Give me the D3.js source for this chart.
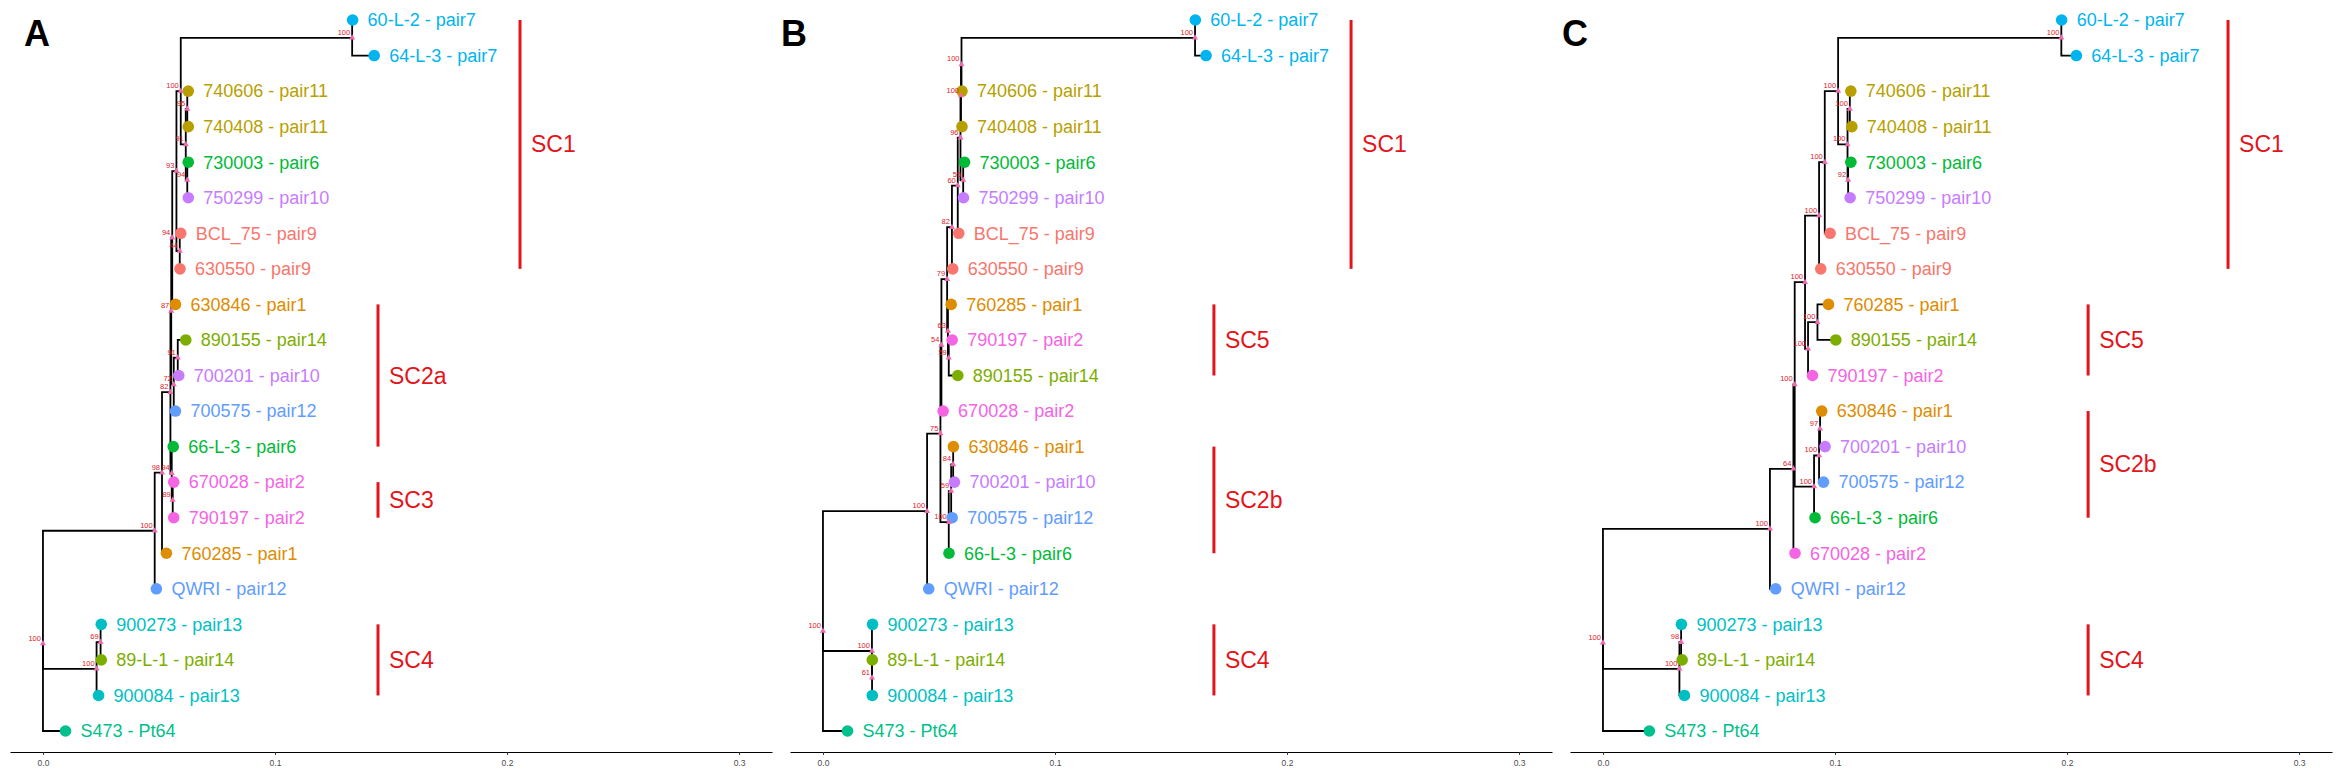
<!DOCTYPE html>
<html>
<head>
<meta charset="utf-8">
<script src="https://cdn.jsdelivr.net/npm/d3@7"></script>
<style>
  body { margin: 0; background: #fff; }
  svg { display: block; }
  text { font-family: "Liberation Sans", Arial, Helvetica, sans-serif; }
</style>
</head>
<body>
<svg id="chart"></svg>
<script>
// trees in Newick, internal node names = bootstrap support
const newickA = "(((((((" +
  "((60-L-2:0.0002,64-L-3:0.0095)100:0.07387,((740606:0.00043,740408:0.00043)95:0.00065,(730003:0.00043,750299:0.00043)94:0.00065)91:0.00216)100:0.00186" +
  ",(BCL_75:0.00043,630550:0.0001)44:0.00143)93:0.00181" +
  ",630846:0.00138)94:0.00043" +
  ",((890155:0.00346,700201:0.00043)91:0.00173,700575:0.00073)72:0.00108)87:0.00035" +
  ",(66-L-3:0.00065,(670028:0.00043,790197:0.00043)89:0.00043)94:0.00056)82:0.00363" +
  ",760285:0.0019)98:0.00315,QWRI:0.00073)100:0.04816" +
  ",((900273:0.0003,89-L-1:0.0003)69:0.00173,900084:0.00086)100:0.02311,S473:0.00972)100;";

const newickB = "(((((((((" +
  "((60-L-2:0.00013,64-L-3:0.00475)100:0.10065,740606:0.00022)100:0.00022" +
  ",740408:0.00043)100:0.00022" +
  ",(730003:0.00056,750299:0.00013)55:0.00117)96:0.00117" +
  ",BCL_75:0.00043)60:0.00251" +
  ",630550:0.00035)82:0.00207" +
  ",(760285:0.00138,(790197:0.00147,890155:0.00389)59:0.00035)63:0.00035)79:0.00246" +
  ",670028:0.00073)54:0.00043" +
  ",(((630846:0.0001,700201:0.00056)84:0.00086,700575:0.00043)59:0.00104,66-L-3:0.0001)100:0.00359)75:0.00575" +
  ",QWRI:0.00069)100:0.04488" +
  ",(900273:0.00026,(89-L-1:0.0001,900084:0.0001)61:0.00004)100:0.02112,S473:0.01058)100;";

const newickC = "(((((((" +
  "((60-L-2:0.00013,64-L-3:0.00648)100:0.0962,((740606:0.00043,740408:0.00086)100:0.00099,(730003:0.00117,750299:0.00086)92:0.00026)100:0.00406)100:0.00575" +
  ",BCL_75:0.00229)100:0.00246" +
  ",630550:0.00073)100:0.00605" +
  ",((760285:0.00475,890155:0.00791)100:0.00406,790197:0.0019)100:0.0013)100:0.00445" +
  ",(((630846:0.00073,700201:0.00216)97:0.00043,700575:0.0019)100:0.00216,66-L-3:0.00043)100:0.00834)100:0.00056" +
  ",670028:0.00069)64:0.01011" +
  ",QWRI:0.00246)100:0.07197" +
  ",((900273:0.00013,89-L-1:0.00043)98:0.00073,900084:0.00216)100:0.03296,S473:0.02)100;";

// tip -> pair
const tipNames  = ["60-L-2","64-L-3","740606","740408","730003","750299","BCL_75","630550","630846","890155",
                   "700201","700575","66-L-3","670028","790197","760285","QWRI","900273","89-L-1","900084","S473"];
const tipGroups = ["pair7","pair7","pair11","pair11","pair6","pair10","pair9","pair9","pair1","pair14",
                   "pair10","pair12","pair6","pair2","pair2","pair1","pair12","pair13","pair14","pair13","Pt64"];

const groupNames  = ["pair9","pair1","pair11","pair14","pair6","Pt64","pair13","pair7","pair12","pair10","pair2"];
const groupColors = ["#F8766D","#DE8C00","#B79F00","#7CAE00","#00BA38","#00C08B","#00BFC4","#00B4F0","#619CFF","#C77CFF","#F564E3"];

// clade bars
const cladeLabelsA = ["SC1","SC2a","SC3","SC4"];
const cladeSpansA  = [["60-L-2","630550"],["630846","66-L-3"],["670028","790197"],["900273","900084"]];
const cladeLabelsB = ["SC1","SC5","SC2b","SC4"];
const cladeSpansB  = [["60-L-2","630550"],["760285","890155"],["630846","66-L-3"],["900273","900084"]];
const cladeLabelsC = ["SC1","SC5","SC2b","SC4"];
const cladeSpansC  = [["60-L-2","630550"],["760285","790197"],["630846","66-L-3"],["900273","900084"]];

const axisTicks = [0, 0.1, 0.2, 0.3];

// layout
const width = 2340, height = 775, panelW = 780;
const panels = [
  { letter: "A", tree: newickA, labels: cladeLabelsA, spans: cladeSpansA, barX: [0.2056, 0.1444, 0.1444, 0.1444], letterX: 24 },
  { letter: "B", tree: newickB, labels: cladeLabelsB, spans: cladeSpansB, barX: [0.2276, 0.1685, 0.1685, 0.1685], letterX: 1 },
  { letter: "C", tree: newickC, labels: cladeLabelsC, spans: cladeSpansC, barX: [0.2694, 0.2091, 0.2091, 0.2091], letterX: 2 }
];

const colorOf = d3.scaleOrdinal().domain(groupNames).range(groupColors);
const groupOf = new Map(tipNames.map((n, i) => [n, tipGroups[i]]));

const x = d3.scaleLinear().domain([-0.0142, 0.3142]).range([10, 772]);
const y = d3.scaleLinear().domain([0, 20]).range([20, 731]);

function parseNewick(s) {
  let i = 0;
  function node() {
    const n = { children: [] };
    if (s[i] === "(") {
      i++;
      n.children.push(node());
      while (s[i] === ",") { i++; n.children.push(node()); }
      i++;
    }
    let name = "";
    while (i < s.length && !",():;".includes(s[i])) name += s[i++];
    n.name = name.trim();
    n.length = 0;
    if (s[i] === ":") {
      i++;
      let len = "";
      while (i < s.length && !",();".includes(s[i])) len += s[i++];
      n.length = +len;
    }
    return n;
  }
  return node();
}

const svg = d3.select("#chart").attr("width", width).attr("height", height);

panels.forEach((p, k) => {
  const g = svg.append("g").attr("transform", `translate(${k * panelW},0)`);

  const root = d3.hierarchy(parseNewick(p.tree), d => d.children.length ? d.children : null);
  root.eachBefore(d => { d.dist = d.parent ? d.parent.dist + d.data.length : 0; });
  root.leaves().forEach((d, i) => { d.row = i; });
  root.eachAfter(d => { if (d.children) d.row = d3.mean(d.children, c => c.row); });

  const px = d => x(d.dist), py = d => y(d.row);

  // axis
  g.append("g")
    .attr("transform", "translate(0,752)")
    .call(d3.axisBottom(x).tickValues(axisTicks).tickFormat(d3.format(".1f")).tickSize(3).tickSizeOuter(0))
    .call(a => a.select(".domain").attr("stroke", "#000").attr("stroke-width", 1.1))
    .call(a => a.selectAll(".tick line").attr("stroke", "#333"))
    .call(a => a.selectAll(".tick text").attr("fill", "#4d4d4d").attr("font-size", 8.5).attr("dy", "0.9em")
      .style("font-family", "'Liberation Sans', Arial, sans-serif"));

  // elbow edges
  const nodes = root.descendants();
  g.append("g").selectAll("path")
    .data(nodes.filter(d => d.parent))
    .join("path")
    .attr("d", d => `M${px(d.parent)},${py(d.parent)}V${py(d)}H${px(d)}`)
    .attr("fill", "none")
    .attr("stroke", "#000")
    .attr("stroke-width", 1.8);

  // tip points + labels
  const leaves = root.leaves();
  g.append("g").selectAll("circle")
    .data(leaves)
    .join("circle")
    .attr("cx", px).attr("cy", py).attr("r", 5.8)
    .attr("fill", d => colorOf(groupOf.get(d.data.name)));

  g.append("g").selectAll("text")
    .data(leaves)
    .join("text")
    .attr("x", d => px(d) + 15)
    .attr("y", py)
    .attr("dy", "0.35em")
    .attr("font-size", 18)
    .attr("fill", d => colorOf(groupOf.get(d.data.name)))
    .text(d => `${d.data.name} - ${groupOf.get(d.data.name)}`);

  // internal node markers and support values
  const inner = nodes.filter(d => d.children);
  g.append("g").selectAll("path")
    .data(inner)
    .join("path")
    .attr("transform", d => `translate(${px(d)},${py(d)})`)
    .attr("d", d3.symbol(d3.symbolTriangle, 16))
    .attr("fill", "#ee6aae");

  g.append("g").selectAll("text")
    .data(inner)
    .join("text")
    .attr("x", d => px(d) - 2)
    .attr("y", d => py(d) - 3)
    .attr("text-anchor", "end")
    .attr("font-size", 7.5)
    .attr("fill", "#e0202a")
    .text(d => d.data.name);

  // clade bars
  const rowOf = new Map(leaves.map(d => [d.data.name, d.row]));
  p.labels.forEach((lab, j) => {
    const y0 = y(rowOf.get(p.spans[j][0])), y1 = y(rowOf.get(p.spans[j][1]));
    const bx = x(p.barX[j]);
    g.append("line")
      .attr("x1", bx).attr("x2", bx).attr("y1", y0).attr("y2", y1)
      .attr("stroke", "#e3141b").attr("stroke-width", 3);
    g.append("text")
      .attr("x", bx + 11).attr("y", (y0 + y1) / 2).attr("dy", "0.35em")
      .attr("font-size", 23).attr("fill", "#e3141b")
      .text(lab);
  });

  // panel letter
  g.append("text")
    .attr("x", p.letterX).attr("y", 46)
    .attr("font-size", 36).attr("font-weight", "bold").attr("fill", "#000")
    .text(p.letter);
});
</script>
</body>
</html>
